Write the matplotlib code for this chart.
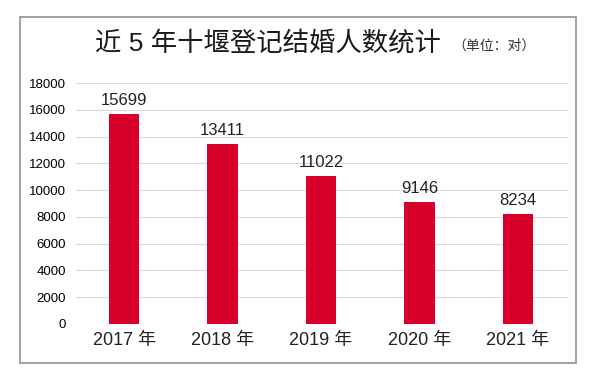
import matplotlib.pyplot as plt
from matplotlib.patches import Rectangle
from matplotlib.transforms import ScaledTranslation

plt.rcParams['font.family'] = ['Noto Sans CJK SC', 'DejaVu Sans']
mixed = ['Liberation Sans', 'Noto Sans CJK SC']

years = ['2017 年', '2018 年', '2019 年', '2020 年', '2021 年']
counts = [15699, 13411, 11022, 9146, 8234]
yticks = [0, 2000, 4000, 6000, 8000, 10000, 12000, 14000, 16000, 18000]

W, H = 600, 377
fig = plt.figure(figsize=(6, 3.77), dpi=100)

# outer frame
fig.patches.append(Rectangle((20 / W, 1 - 363 / H), (576 - 20) / W, (363 - 17) / H,
                             transform=fig.transFigure, fill=False,
                             edgecolor='#9a9a9a', linewidth=1.3))

ax = fig.add_axes([76 / W, 1 - 324 / H, (568 - 76) / W, (324 - 83) / H])
x = list(range(len(years)))
ax.bar(x, counts, width=0.31, color='#d8002a', zorder=3)
for xi, v in zip(x, counts):
    ax.text(xi, v + 450, str(v), ha='center', va='bottom', fontsize=12,
            family='Liberation Sans', color='#222222')

ax.set_ylim(0, 18000)
ax.set_xlim(-0.49, 4.51)
ax.set_yticks(yticks)
ax.set_yticklabels([str(t) for t in yticks], family='Liberation Sans', fontsize=9.5)
ax.set_xticks(x)
ax.set_xticklabels(years, fontsize=13, color='#222222', family=mixed)
shift = ScaledTranslation(-4 / 100, 0, fig.dpi_scale_trans)
for lab in ax.get_xticklabels():
    lab.set_transform(lab.get_transform() + shift)
ax.tick_params(length=0)
ax.tick_params(axis='y', pad=7)
ax.tick_params(axis='x', pad=6)
ax.grid(axis='y', color='#d9d9d9', linewidth=0.8, zorder=0)
for s in ax.spines.values():
    s.set_visible(False)

fig.text(268 / W, 1 - 43 / H, '近 5 年十堰登记结婚人数统计', ha='center', va='center',
         fontsize=19, weight='medium', color='#1a1a1a', family=mixed)
fig.text(452 / W, 1 - 46 / H, '（单位：对）', ha='left', va='center',
         fontsize=10, color='#333333')

fig.savefig('out.png', dpi=100)
